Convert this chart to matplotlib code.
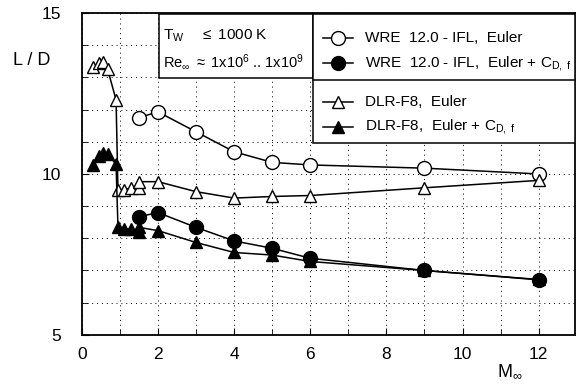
import matplotlib
matplotlib.use("Agg")
import matplotlib.pyplot as plt
from matplotlib.lines import Line2D
from matplotlib.patches import Rectangle
from matplotlib.ticker import MultipleLocator

plt.rcParams["font.family"] = ["Liberation Sans", "DejaVu Sans"]
plt.rcParams["mathtext.fontset"] = "custom"
plt.rcParams["mathtext.rm"] = "Liberation Sans"
plt.rcParams["mathtext.it"] = "Liberation Sans"

# WRE 12.0 - IFL
wre_mach = [1.5, 2.0, 3.0, 4.0, 5.0, 6.0, 9.0, 12.0]
wre_euler = [11.75, 11.93, 11.31, 10.69, 10.36, 10.28, 10.18, 10.0]
wre_euler_cf = [8.67, 8.8, 8.34, 7.92, 7.69, 7.38, 7.0, 6.71]

# DLR-F8
dlr_mach = [0.3, 0.45, 0.55, 0.68, 0.9, 0.95, 1.1, 1.3, 1.5, 1.5, 2.0, 3.0, 4.0, 5.0, 6.0, 9.0, 12.0]
dlr_euler = [13.33, 13.45, 13.48, 13.25, 12.3, 9.5, 9.5, 9.56, 9.55, 9.76, 9.76, 9.45, 9.25, 9.3, 9.33, 9.57, 9.8]
dlr_euler_cf = [10.28, 10.55, 10.65, 10.62, 10.3, 8.36, 8.3, 8.28, 8.2, 8.34, 8.24, 7.87, 7.56, 7.48, 7.28, 7.0, 6.72]

labels = [
    "WRE  12.0 - IFL,  Euler",
    r"WRE  12.0 - IFL,  Euler + C$_{\mathrm{D,\ f}}$",
    "DLR-F8,  Euler",
    r"DLR-F8,  Euler + C$_{\mathrm{D,\ f}}$",
]

fig = plt.figure(figsize=(5.76, 3.84), dpi=100)
ax = fig.add_axes([0.142, 0.128, 0.856, 0.838])

lw = 1.1
ax.plot(wre_mach, wre_euler, "-o", color="black", mfc="white", mec="black", ms=10, lw=lw, mew=1.0)
ax.plot(wre_mach, wre_euler_cf, "-o", color="black", ms=10, lw=lw)
ax.plot(dlr_mach, dlr_euler, "-^", color="black", mfc="white", mec="black", ms=9, lw=lw, mew=1.0)
ax.plot(dlr_mach, dlr_euler_cf, "-^", color="black", ms=9, lw=lw)

ax.set_xlim(0, 12.95)
ax.set_ylim(5, 15)
ax.xaxis.set_major_locator(MultipleLocator(2))
ax.xaxis.set_minor_locator(MultipleLocator(1))
ax.yaxis.set_major_locator(MultipleLocator(5))
ax.yaxis.set_minor_locator(MultipleLocator(1))
ax.tick_params(which="both", direction="in", labelsize=12.5)
ax.tick_params(axis="y", which="major", length=5, pad=15)
ax.tick_params(axis="x", which="major", length=5, pad=9)
ax.tick_params(which="minor", length=4)
ax.grid(which="both", linestyle=(0, (1, 4)), color="black", lw=0.7)
for s in ax.spines.values():
    s.set_linewidth(1.3)

fig.text(0.055, 0.843, "L / D", fontsize=13, ha="center", va="center")
fig.text(0.885, 0.032, r"M$_\infty$", fontsize=13, ha="center", va="center")

# condition box
T = ax.transAxes
x0b, x1b = (159 - 82) / 493, (313 - 82) / 493
ax.add_patch(Rectangle((x0b, (335 - 78) / 322), x1b - x0b, (78 - 14) / 322,
                       transform=T, fill=True, fc="white", ec="black", lw=1.1, zorder=5))
ax.text(x0b + 0.008, (335 - 36) / 322, r"T$_\mathrm{W}$    $\leq$ 1000 K", transform=T,
        fontsize=11, va="center", zorder=6)
ax.text(x0b + 0.008, (335 - 61) / 322, r"Re$_\infty$ $\approx$ 1x10$^6$ .. 1x10$^9$", transform=T,
        fontsize=10.5, va="center", zorder=6)

# legend box
lx0 = (313 - 82) / 493
ax.add_patch(Rectangle((lx0, (335 - 143) / 322), 1 - lx0, (143 - 14) / 322,
                       transform=T, fc="white", ec="black", lw=1.1, zorder=5))
ax.add_line(Line2D([lx0, 1], [(335 - 80) / 322] * 2, transform=T, color="black", lw=1.1, zorder=6))
rows = [38, 63, 102, 127]
styles = [("o", "white", 10), ("o", "black", 10), ("^", "white", 9), ("^", "black", 9)]
for py, (m, fc, ms), lab in zip(rows, styles, labels):
    yy = (335 - py) / 322
    ax.add_line(Line2D([(323 - 82) / 493, (353 - 82) / 493], [yy, yy], transform=T,
                       color="black", lw=lw, zorder=6))
    ax.add_line(Line2D([(338 - 82) / 493], [yy], transform=T, marker=m, ms=ms,
                       mfc=fc, mec="black", color="black", zorder=7))
    ax.text((365 - 82) / 493, yy, lab, transform=T, fontsize=11, va="center", zorder=7)

fig.savefig("out.png", dpi=100)
